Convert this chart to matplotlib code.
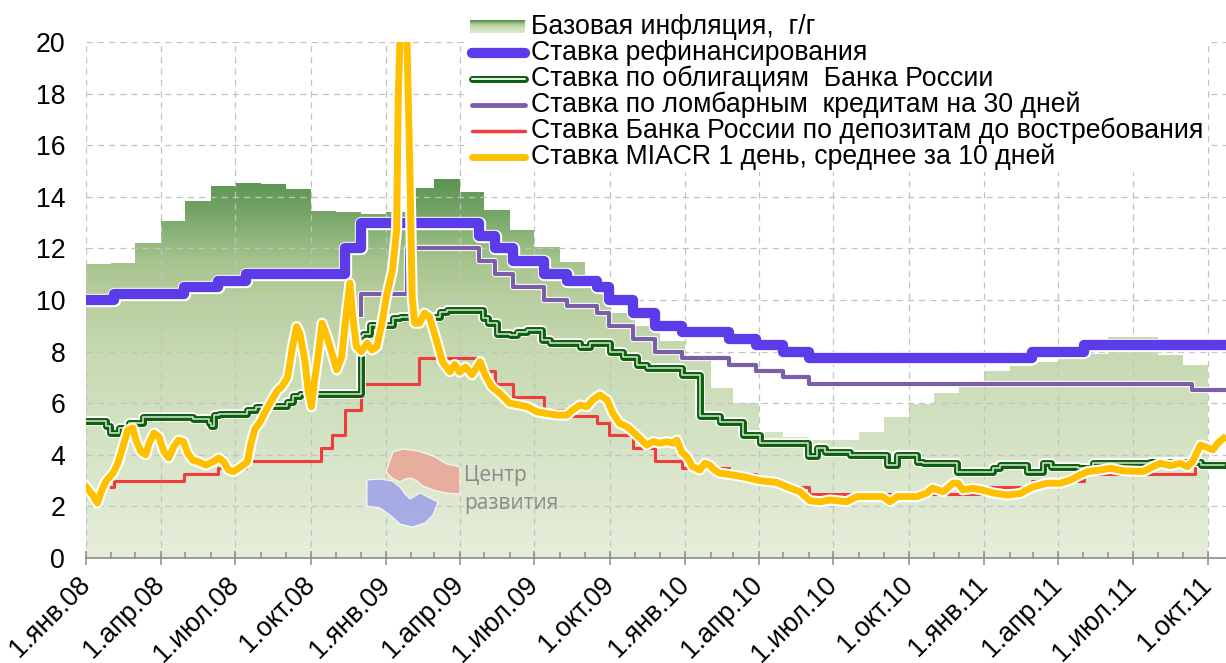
import numpy as np
import matplotlib
matplotlib.use('Agg')
import matplotlib.pyplot as plt
import matplotlib.dates as mdates
import matplotlib.patheffects as pe
from matplotlib.colors import LinearSegmentedColormap
from matplotlib.patches import Polygon, Rectangle
from matplotlib.lines import Line2D
from matplotlib.ticker import FuncFormatter

plt.rcParams['font.family'] = ['Liberation Sans', 'DejaVu Sans']

# --- data ---------------------------------------------------------------
# base (core) inflation, y/y, monthly
infl_months = np.arange('2008-01', '2011-10', dtype='datetime64[M]')
infl_values = [11.4, 11.45, 12.2, 13.05, 13.85, 14.4, 14.55, 14.5, 14.3, 13.45, 13.4, 13.35,
               13.4, 14.33, 14.7, 14.2, 13.5, 12.7, 12.05, 11.47, 10.6, 9.5, 9.0, 8.4,
               7.8, 6.6, 6.0, 4.9, 4.7, 4.57, 4.57, 4.88, 5.47, 5.95, 6.39, 6.63,
               7.25, 7.44, 7.6, 7.75, 7.9, 8.55, 8.55, 7.87, 7.48]

# refinancing rate
refi_dates = ['2008-01-01', '2008-02-04', '2008-04-29', '2008-06-10', '2008-07-14', '2008-11-12',
              '2008-12-01', '2009-04-24', '2009-05-14', '2009-06-05', '2009-07-13', '2009-08-10',
              '2009-09-15', '2009-09-30', '2009-10-30', '2009-11-25', '2009-12-28', '2010-02-24',
              '2010-03-29', '2010-04-30', '2010-06-01', '2011-02-28', '2011-05-03', '2011-10-23']
refi_values = [10.0, 10.25, 10.5, 10.75, 11.0, 12.0,
               13.0, 12.5, 12.0, 11.5, 11.0, 10.75,
               10.5, 10.0, 9.5, 9.0, 8.75, 8.5,
               8.25, 8.0, 7.75, 8.0, 8.25, 8.25]

# Bank of Russia bonds yield
bond_dates = ['2008-01-01', '2008-01-25', '2008-01-30', '2008-02-10', '2008-02-22', '2008-03-11',
              '2008-05-10', '2008-05-30', '2008-06-01', '2008-06-05', '2008-06-11', '2008-07-15',
              '2008-07-26', '2008-08-09', '2008-09-02', '2008-09-09', '2008-09-18', '2008-12-01',
              '2008-12-04', '2008-12-12', '2009-01-09', '2009-01-18', '2009-03-08', '2009-03-16',
              '2009-04-29', '2009-05-05', '2009-05-16', '2009-06-01', '2009-06-10', '2009-06-22',
              '2009-07-11', '2009-07-20', '2009-08-26', '2009-09-07', '2009-10-01', '2009-10-17',
              '2009-11-03', '2009-11-15', '2009-12-28', '2010-01-19', '2010-02-12', '2010-03-13',
              '2010-04-02', '2010-05-31', '2010-06-11', '2010-06-21', '2010-07-21', '2010-09-04',
              '2010-09-17', '2010-10-11', '2010-10-18', '2010-11-29', '2011-01-12', '2011-01-20',
              '2011-02-22', '2011-03-14', '2011-03-23', '2011-04-25', '2011-05-14', '2011-07-22',
              '2011-09-22', '2011-10-20']
bond_values = [5.3, 5.1, 4.84, 5.05, 5.22, 5.48,
               5.38, 5.22, 5.1, 5.55, 5.6, 5.75,
               5.86, 5.9, 6.06, 6.28, 6.35, 8.6,
               8.7, 9.05, 9.3, 9.35, 9.55, 9.6,
               9.3, 9.1, 8.7, 8.64, 8.77, 8.84,
               8.45, 8.33, 8.19, 8.33, 8.0, 7.8,
               7.48, 7.36, 7.09, 5.5, 5.28, 4.77,
               4.45, 3.95, 4.25, 4.1, 4.0, 3.6,
               4.0, 3.73, 3.67, 3.35, 3.48, 3.6,
               3.35, 3.67, 3.54, 3.48, 3.67, 3.72,
               3.6, 3.6]

# lombard credits, 30 days
lomb_dates = ['2008-12-01', '2008-12-02', '2009-01-27', '2009-04-24', '2009-05-14', '2009-06-05',
              '2009-07-13', '2009-08-10', '2009-09-15', '2009-09-30', '2009-10-30', '2009-11-25',
              '2009-12-28', '2010-02-24', '2010-03-29', '2010-04-30', '2010-06-01', '2011-09-12',
              '2011-10-20']
lomb_values = [9.4, 10.25, 12.0, 11.5, 11.0, 10.5,
               10.0, 9.75, 9.5, 9.0, 8.5, 8.0,
               7.75, 7.5, 7.25, 7.0, 6.75, 6.5,
               6.5]

# deposits on demand
dep_dates = ['2008-01-31', '2008-02-04', '2008-04-29', '2008-06-10', '2008-07-14', '2008-10-14',
             '2008-10-27', '2008-11-12', '2008-12-01', '2009-02-10', '2009-04-24', '2009-05-14',
             '2009-06-05', '2009-07-13', '2009-08-10', '2009-09-15', '2009-09-30', '2009-10-30',
             '2009-11-25', '2009-12-28', '2010-02-24', '2010-03-29', '2010-04-30', '2010-06-01',
             '2010-12-27', '2011-02-28', '2011-05-03', '2011-09-15', '2011-10-20']
dep_values = [2.75, 3.0, 3.25, 3.5, 3.75, 4.25,
              4.75, 5.75, 6.75, 7.75, 7.25, 6.75,
              6.25, 5.75, 5.5, 5.25, 4.75, 4.25,
              3.75, 3.5, 3.25, 3.0, 2.75, 2.5,
              2.75, 3.0, 3.25, 3.75, 3.75]

# MIACR 1 day, 10-day average
miacr_dates = [
    '2008-01-01', '2008-01-09', '2008-01-15', '2008-01-19', '2008-01-25', '2008-02-03', '2008-02-09', '2008-02-15', '2008-02-21', '2008-02-27',
    '2008-03-02', '2008-03-08', '2008-03-14', '2008-03-18', '2008-03-24', '2008-03-30', '2008-04-05', '2008-04-11', '2008-04-17', '2008-04-23',
    '2008-04-29', '2008-05-04', '2008-05-10', '2008-05-17', '2008-05-26', '2008-06-04', '2008-06-11', '2008-06-17', '2008-06-23', '2008-06-29',
    '2008-07-08', '2008-07-16', '2008-07-20', '2008-07-25', '2008-07-31', '2008-08-09', '2008-08-16', '2008-08-22', '2008-08-27', '2008-09-03',
    '2008-09-09', '2008-09-14', '2008-09-18', '2008-09-24', '2008-09-28', '2008-10-02', '2008-10-06', '2008-10-10', '2008-10-15', '2008-10-21',
    '2008-10-27', '2008-11-02', '2008-11-08', '2008-11-14', '2008-11-18', '2008-11-21', '2008-11-26', '2008-12-02', '2008-12-09', '2008-12-15',
    '2008-12-21', '2008-12-27', '2009-01-02', '2009-01-09', '2009-01-14', '2009-01-16', '2009-01-19', '2009-01-23', '2009-01-26', '2009-01-30',
    '2009-02-02', '2009-02-05', '2009-02-11', '2009-02-17', '2009-02-23', '2009-03-04', '2009-03-11', '2009-03-20', '2009-03-26', '2009-04-01',
    '2009-04-08', '2009-04-16', '2009-04-26', '2009-05-02', '2009-05-10', '2009-05-20', '2009-06-01', '2009-06-13', '2009-06-23', '2009-07-04',
    '2009-07-16', '2009-07-29', '2009-08-10', '2009-08-17', '2009-08-26', '2009-09-03', '2009-09-10', '2009-09-19', '2009-09-28', '2009-10-05',
    '2009-10-13', '2009-10-22', '2009-10-29', '2009-11-07', '2009-11-15', '2009-11-23', '2009-12-01', '2009-12-10', '2009-12-17', '2009-12-22',
    '2009-12-28', '2010-01-03', '2010-01-10', '2010-01-19', '2010-01-25', '2010-01-31', '2010-02-06', '2010-02-12', '2010-02-28', '2010-03-17',
    '2010-04-02', '2010-04-23', '2010-05-05', '2010-05-21', '2010-06-02', '2010-06-15', '2010-06-27', '2010-07-17', '2010-07-30', '2010-08-30',
    '2010-09-08', '2010-09-17', '2010-10-11', '2010-10-23', '2010-10-30', '2010-11-12', '2010-11-24', '2010-11-30', '2010-12-06', '2010-12-18',
    '2010-12-29', '2011-01-12', '2011-01-29', '2011-02-14', '2011-02-22', '2011-03-02', '2011-03-19', '2011-04-04', '2011-04-16', '2011-04-28',
    '2011-05-07', '2011-05-23', '2011-06-04', '2011-06-19', '2011-07-14', '2011-07-26', '2011-08-04', '2011-08-16', '2011-08-28', '2011-09-06',
    '2011-09-12', '2011-09-22', '2011-09-28', '2011-10-07', '2011-10-13', '2011-10-20']
miacr_values = [
    2.76, 2.44, 2.13, 2.52, 2.96, 3.29, 3.68, 4.31, 4.96, 5.04,
    4.57, 4.12, 4.0, 4.45, 4.84, 4.7, 4.12, 3.88, 4.31, 4.57,
    4.51, 4.07, 3.8, 3.73, 3.6, 3.73, 3.88, 3.73, 3.41, 3.35,
    3.54, 3.73, 4.4, 5.0, 5.25, 5.8, 6.2, 6.51, 6.64, 7.0,
    8.19, 8.97, 8.7, 7.67, 6.51, 5.86, 6.9, 7.8, 9.1, 8.58,
    7.93, 7.29, 7.8, 9.61, 10.65, 9.49, 8.19, 8.0, 8.33, 8.06,
    8.19, 9.1, 10.2, 11.16, 12.7, 17.9, 21.0, 24.0, 21.0, 15.3,
    10.13, 9.1, 9.1, 9.49, 9.35, 8.4, 7.6, 7.22, 7.5, 7.2,
    7.4, 7.1, 7.61, 7.09, 6.64, 6.38, 6.0, 5.93, 5.86, 5.67,
    5.6, 5.54, 5.54, 5.74, 5.93, 5.86, 6.12, 6.32, 6.12, 5.6,
    5.22, 5.09, 4.9, 4.64, 4.38, 4.51, 4.45, 4.51, 4.45, 4.57,
    4.1, 3.93, 3.54, 3.41, 3.67, 3.6, 3.41, 3.29, 3.22, 3.12,
    3.0, 2.93, 2.76, 2.57, 2.22, 2.18, 2.25, 2.18, 2.38, 2.38,
    2.18, 2.38, 2.38, 2.52, 2.71, 2.57, 2.9, 2.9, 2.64, 2.7,
    2.64, 2.52, 2.44, 2.5, 2.64, 2.76, 2.9, 2.9, 3.02, 3.22,
    3.35, 3.41, 3.48, 3.38, 3.35, 3.54, 3.67, 3.58, 3.67, 3.54,
    3.73, 4.38, 4.31, 4.19, 4.45, 4.64]

labels = ['Базовая инфляция,  г/г',
          'Ставка рефинансирования',
          'Ставка по облигациям  Банка России',
          'Ставка по ломбарным  кредитам на 30 дней',
          'Ставка Банка России по депозитам до востребования',
          'Ставка MIACR 1 день, среднее за 10 дней']
tick_months = {1: 'янв', 4: 'апр', 7: 'июл', 10: 'окт'}

# --- figure -------------------------------------------------------------
W, H = 1226, 663
FS = 19.2
fig = plt.figure(figsize=(W / 100, H / 100), dpi=100)
ax = fig.add_axes([86 / W, 105 / H, 1140 / W, 516 / H])

x_start = np.datetime64('2008-01-01')
x_end = np.datetime64('2011-10-23')

# inflation area with a vertical gradient
stops = [(0, '#e6eedb'), (3, '#dbe7cd'), (6, '#cfdfbd'), (8, '#c6d9b0'), (10, '#b9cf9f'),
         (11.5, '#a6c48e'), (12.5, '#8db57a'), (13.5, '#74a466'), (15, '#55904f')]
infl_cmap = LinearSegmentedColormap.from_list('infl', [(v / 15, c) for v, c in stops])

infl_x = np.append(infl_months.astype('datetime64[D]'), np.datetime64('2011-10-01'))
infl_y = np.append(infl_values, infl_values[-1])
area = ax.fill_between(infl_x, infl_y, step='post', facecolor='none', edgecolor='none')
grad = np.linspace(0, 15, 400).reshape(-1, 1)
im = ax.imshow(grad, cmap=infl_cmap, vmin=0, vmax=15, origin='lower', aspect='auto',
               extent=[mdates.date2num(x_start), mdates.date2num(x_end), 0, 15],
               zorder=0.2, interpolation='bilinear')
im.set_clip_path(area.get_paths()[0], transform=ax.transData)


def halo(w):
    return [pe.Stroke(linewidth=w, foreground='white'), pe.Normal()]


ax.plot(np.array(dep_dates, dtype='datetime64[D]'), dep_values, drawstyle='steps-post',
        color='#f03c3c', lw=2.2, zorder=3)
ax.plot(np.array(bond_dates, dtype='datetime64[D]'), bond_values, drawstyle='steps-post',
        color='#0e5f10', lw=5, zorder=4, path_effects=halo(7))
ax.plot(np.array(bond_dates, dtype='datetime64[D]'), bond_values, drawstyle='steps-post',
        color='#d9ead0', lw=1.1, zorder=4.1)
ax.plot(np.array(lomb_dates, dtype='datetime64[D]'), lomb_values, drawstyle='steps-post',
        color='#7b5ea8', lw=3, zorder=5, path_effects=halo(4.5))
ax.plot(np.array(refi_dates, dtype='datetime64[D]'), refi_values, drawstyle='steps-post',
        color='#5b3ce8', lw=7.4, zorder=6, path_effects=halo(9.6))
ax.plot(np.array(miacr_dates, dtype='datetime64[D]'), miacr_values,
        color='#ffc000', lw=5, zorder=7, solid_joinstyle='round', path_effects=halo(8))

# axes styling
ax.set_xlim(x_start, x_end)
ax.set_ylim(0, 20)
ax.set_yticks(range(0, 21, 2))
ax.xaxis.set_major_locator(mdates.MonthLocator(bymonth=[1, 4, 7, 10]))
ax.xaxis.set_minor_locator(mdates.MonthLocator())
ax.xaxis.set_major_formatter(FuncFormatter(
    lambda v, pos: '1.%s.%s' % (tick_months[mdates.num2date(v).month], mdates.num2date(v).strftime('%y'))))

ax.set_axisbelow(True)
ax.grid(True, which='major', color='#c2c2c2', linestyle=(0, (5, 4)), linewidth=0.9)
for s in ['left', 'top', 'right']:
    ax.spines[s].set_visible(False)
ax.spines['bottom'].set_color('#8c8c8c')
ax.spines['bottom'].set_linewidth(1.2)

ax.tick_params(axis='y', length=0, pad=15, labelsize=FS, labelcolor='black')
ax.tick_params(axis='x', which='major', direction='inout', length=9.5, width=1.1,
               color='#8c8c8c', labelsize=FS, pad=12)
ax.tick_params(axis='x', which='minor', direction='in', length=4.5, width=1.1, color='#8c8c8c')
plt.setp(ax.get_xticklabels(), rotation=45, ha='right', va='center', rotation_mode='anchor')

# watermark logo
pink = [(386, 472), (393, 452), (403, 449), (418, 451), (433, 456), (447, 464), (460, 467),
        (460, 494), (446, 493), (433, 490), (423, 486), (417, 481), (411, 478), (405, 479),
        (400, 482), (392, 478)]
blue = [(367, 480), (380, 479), (392, 481), (400, 487), (405, 494), (410, 499), (415, 496),
        (420, 493), (438, 502), (433, 515), (425, 523), (412, 527), (400, 524), (390, 515),
        (380, 508), (367, 506)]
for pts, col in [(pink, '#eaa898'), (blue, '#a0a6e6')]:
    xy = [((px - 86) / 1140, (558 - py) / 516) for px, py in pts]
    ax.add_patch(Polygon(xy, closed=True, transform=ax.transAxes, facecolor=col,
                         edgecolor='white', lw=0.8, alpha=0.9, zorder=2))
ax.text((464 - 86) / 1140, (558 - 475) / 516, 'Центр', transform=ax.transAxes,
        fontsize=15, color='#8a8a8a', family='Open Sans', va='center', ha='left', zorder=2)
ax.text((464 - 86) / 1140, (558 - 504) / 516, 'развития', transform=ax.transAxes,
        fontsize=15, color='#8a8a8a', family='Open Sans', va='center', ha='left', zorder=2)

# legend (drawn by hand, sits partly above the plot)
fig.add_artist(Rectangle((467 / W, 1 - 172 / H), (1208 - 467) / W, 162 / H,
                         transform=fig.transFigure, facecolor='white', edgecolor='none', zorder=2))
rows = [27, 53, 79, 105, 131, 157]
hx0, hx1 = 472 / W, 525 / W
for i in range(12):
    c = infl_cmap(1 - i / 14)
    y0 = 1 - (20 + (i + 1) * 13 / 12) / H
    fig.add_artist(Rectangle((470 / W, y0), (525 - 470) / W, 13 / 12 / H + 0.0005,
                             transform=fig.transFigure, facecolor=c, edgecolor='none', zorder=3))


def leg_line(row, **kw):
    y = 1 - row / H
    ln = Line2D([hx0, hx1], [y, y], transform=fig.transFigure, zorder=3, **kw)
    fig.add_artist(ln)


leg_line(rows[1], color='#5b3ce8', lw=7.4, solid_capstyle='round')
leg_line(rows[2], color='#0e5f10', lw=5, solid_capstyle='round')
leg_line(rows[2], color='#ffffff', lw=1.3, solid_capstyle='round')
leg_line(rows[3], color='#7b5ea8', lw=3.5, solid_capstyle='round')
leg_line(rows[4], color='#f03c3c', lw=2.5, solid_capstyle='round')
leg_line(rows[5], color='#ffc000', lw=5, solid_capstyle='round')
for row, lab in zip(rows, labels):
    fig.text(531 / W, 1 - row / H, lab, fontsize=FS, va='center', ha='left', zorder=3)

fig.savefig('out.png', dpi=100)
